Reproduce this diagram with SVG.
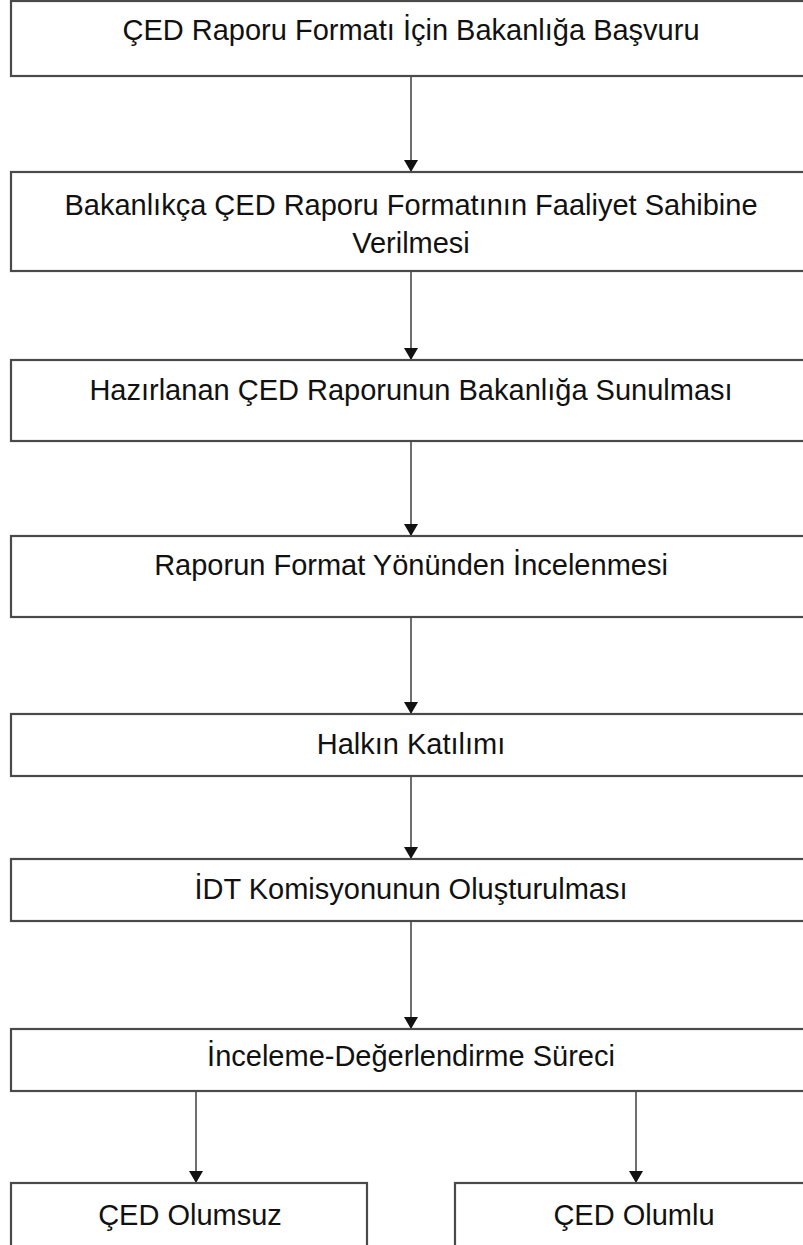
<svg xmlns="http://www.w3.org/2000/svg" width="803" height="1245" viewBox="0 0 803 1245">
<style>
.box{fill:#fff;stroke:#4a4a4a;stroke-width:2.2}
.t{font-family:"Liberation Sans",Arial,sans-serif;font-size:29px;fill:#111;text-anchor:middle}
.c{stroke:#4a4a4a;stroke-width:1.6;fill:none}
</style>
<defs>
<marker id="ah" viewBox="0 0 12 14" refX="12" refY="7" markerWidth="12" markerHeight="14" markerUnits="userSpaceOnUse" orient="auto">
<path d="M0,0 L12,7 L0,14 z" fill="#111"/>
</marker>
</defs>
<rect width="803" height="1245" fill="#fff"/>
<g id="connectors">
<line class="c" x1="411" y1="76" x2="411" y2="172" marker-end="url(#ah)"/>
<line class="c" x1="411" y1="271" x2="411" y2="360" marker-end="url(#ah)"/>
<line class="c" x1="411" y1="441" x2="411" y2="536" marker-end="url(#ah)"/>
<line class="c" x1="411" y1="617" x2="411" y2="714" marker-end="url(#ah)"/>
<line class="c" x1="411" y1="776" x2="411" y2="859" marker-end="url(#ah)"/>
<line class="c" x1="411" y1="921" x2="411" y2="1029" marker-end="url(#ah)"/>
<line class="c" x1="196" y1="1091" x2="196" y2="1183" marker-end="url(#ah)"/>
<line class="c" x1="636" y1="1091" x2="636" y2="1183" marker-end="url(#ah)"/>
</g>
<g id="n1"><rect class="box" x="11" y="1" width="801" height="75"/><text class="t" x="411" y="40">ÇED Raporu Formatı İçin Bakanlığa Başvuru</text></g>
<g id="n2"><rect class="box" x="11" y="172" width="801" height="99"/><text class="t" x="411" y="215">Bakanlıkça ÇED Raporu Formatının Faaliyet Sahibine</text><text class="t" x="411" y="253">Verilmesi</text></g>
<g id="n3"><rect class="box" x="11" y="360" width="801" height="81"/><text class="t" x="411" y="400">Hazırlanan ÇED Raporunun Bakanlığa Sunulması</text></g>
<g id="n4"><rect class="box" x="11" y="536" width="801" height="81"/><text class="t" x="411" y="575">Raporun Format Yönünden İncelenmesi</text></g>
<g id="n5"><rect class="box" x="11" y="714" width="801" height="62"/><text class="t" x="411" y="754">Halkın Katılımı</text></g>
<g id="n6"><rect class="box" x="11" y="859" width="801" height="62"/><text class="t" x="411" y="899">İDT Komisyonunun Oluşturulması</text></g>
<g id="n7"><rect class="box" x="11" y="1029" width="801" height="62"/><text class="t" x="411" y="1066">İnceleme-Değerlendirme Süreci</text></g>
<g id="n8"><rect class="box" x="11" y="1183" width="356" height="80"/><text class="t" x="190" y="1225">ÇED Olumsuz</text></g>
<g id="n9"><rect class="box" x="455" y="1183" width="357" height="80"/><text class="t" x="634" y="1225">ÇED Olumlu</text></g>
</svg>
